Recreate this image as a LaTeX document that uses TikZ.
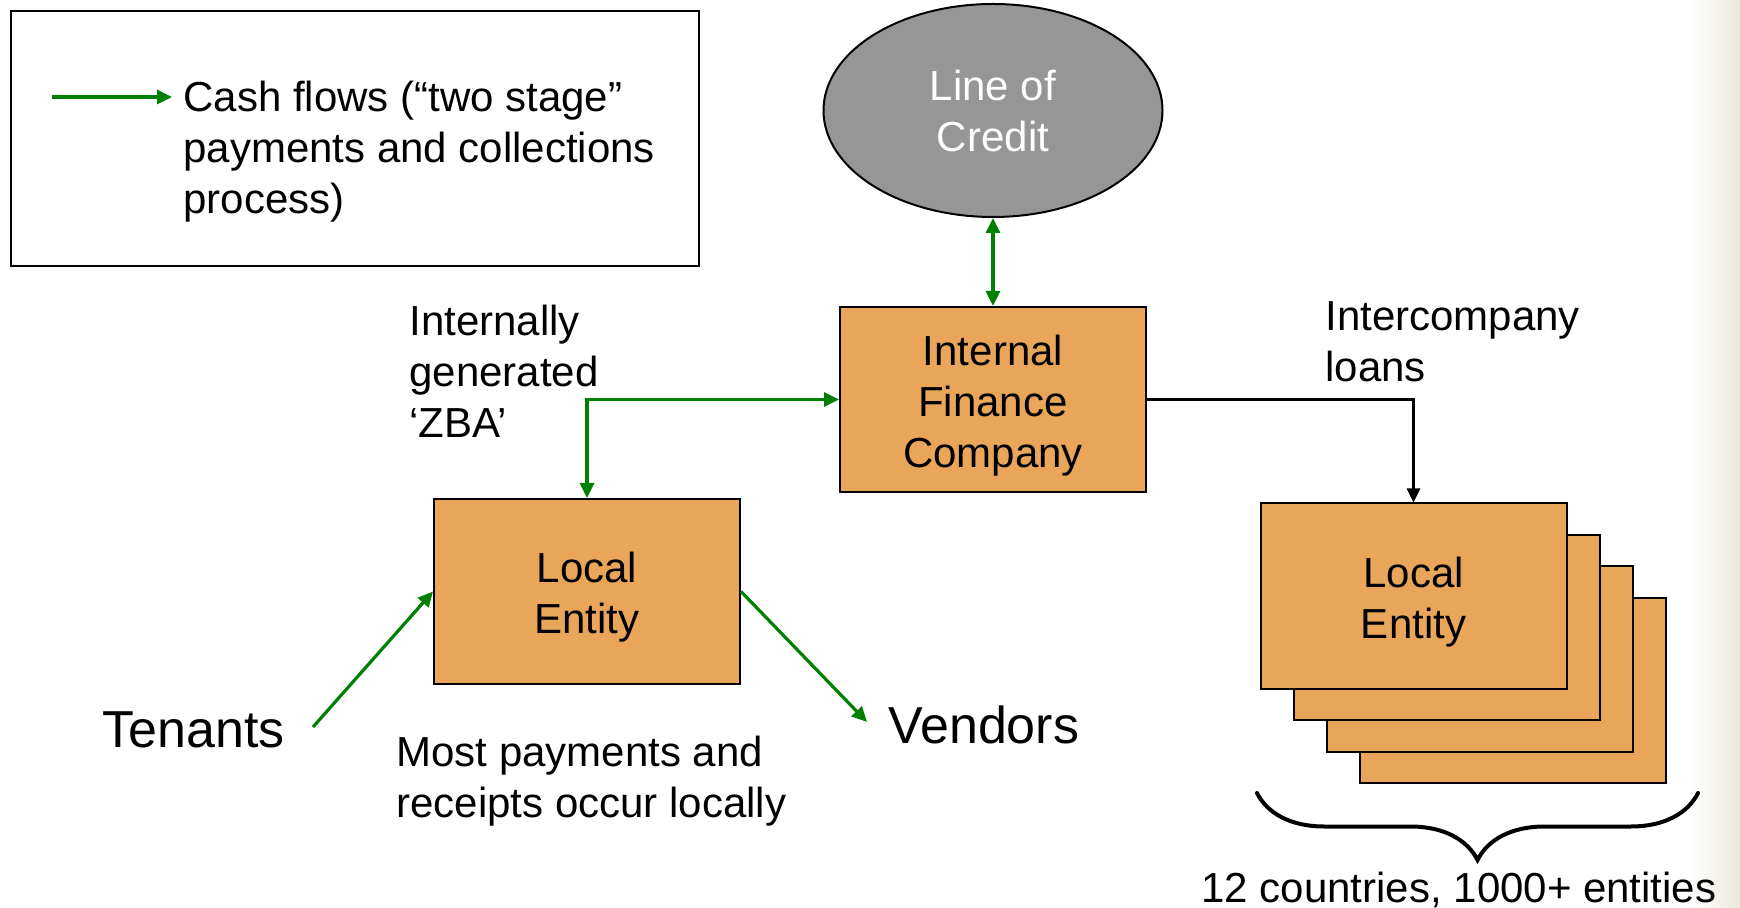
\documentclass[tikz,border=0pt]{standalone}
\usepackage{fontspec}
\setmainfont{Liberation Sans}
\usetikzlibrary{arrows.meta,shapes.geometric,decorations.pathreplacing}
\definecolor{cashgreen}{HTML}{008000}
\definecolor{entityorange}{HTML}{E9A65B}
\definecolor{creditgray}{HTML}{969696}
\definecolor{slideedge}{HTML}{ECE8DF}
\newcommand{\dropline}{\rule{0pt}{21pt}}
\begin{document}
\begin{tikzpicture}[
    x=0.5pt, y=-0.5pt,
    every node/.style={font=\fontsize{21}{25.5}\selectfont},
    entity/.style={draw, line width=1pt, fill=entityorange, minimum width=153pt,
      minimum height=92.5pt, inner sep=0pt, align=center},
    note/.style={anchor=base west, inner sep=0pt, align=left},
    bignote/.style={note, font=\fontsize{26}{30}\selectfont},
    flow/.style={draw=cashgreen, line width=1.6pt, -{Triangle[length=7.5pt,width=7pt]}},
    twoway/.style={flow, {Triangle[length=7.5pt,width=7pt]}-{Triangle[length=7.5pt,width=7pt]}},
    loan/.style={draw, line width=1.4pt, -{Triangle[length=7pt,width=6.5pt]}}
  ]
  \useasboundingbox (0,0) rectangle (1740,908);
  \shade[left color=white, right color=slideedge] (1690,0) rectangle (1740,908);

  \node[draw, line width=1pt, minimum width=344pt, minimum height=127.5pt, inner sep=0pt] (legend) at (355,138.5) {};
  \node[note] (key) at (183,214) {Cash flows (“two stage”\\payments and collections\\process)};
  \coordinate (keystart) at (52,97);
  \coordinate (keyend) at (172,97);
  \draw[flow] (keystart) -- (keyend);

  \node[ellipse, draw, line width=1pt, fill=creditgray, text=white, minimum width=169.5pt,
    minimum height=106.5pt, inner sep=0pt, align=center] (credit) at (993,110.5) {Line of \\Credit};
  \node[entity] (ifc) at (993,399.5) {\dropline Internal\\Finance\\Company};
  \node[entity] (local) at (587,591.5) {\dropline Local\\Entity};
  \foreach \k in {3,2,1}
    \node[entity] (copy\k) at ({1413.5+33*\k},{596+31.5*\k}) {};
  \node[entity] (remote) at (1413.5,596) {\dropline Local\\Entity};

  \coordinate (tenantfoot) at (313,727);
  \coordinate (vendorhead) at (867,722);
  \draw[twoway] (credit) -- (ifc);
  \draw[twoway] (local.north) |- (ifc.west);
  \draw[flow] (tenantfoot) -- (local.west);
  \draw[flow] (local.east) -- (vendorhead);
  \draw[loan] (ifc.east) -| (remote.north);

  \node[note] (zba) at (409,438) {Internally\\generated\\‘ZBA’};
  \node[note] (icl) at (1325,382) {Intercompany\\loans};
  \node[note] (locally) at (396,817) {Most payments and\\receipts occur locally};
  \node[bignote] (tenants) at (102,747) {Tenants};
  \node[bignote] (vendors) at (888,743) {Vendors};

  \draw[line width=2pt, line cap=round, decorate, decoration={brace, amplitude=33.5pt}]
    (1698,793) -- (1257,793);
  \node[anchor=base, inner sep=0pt] (reach) at (1459,902) {12 countries, 1000+ entities};
\end{tikzpicture}
\end{document}
